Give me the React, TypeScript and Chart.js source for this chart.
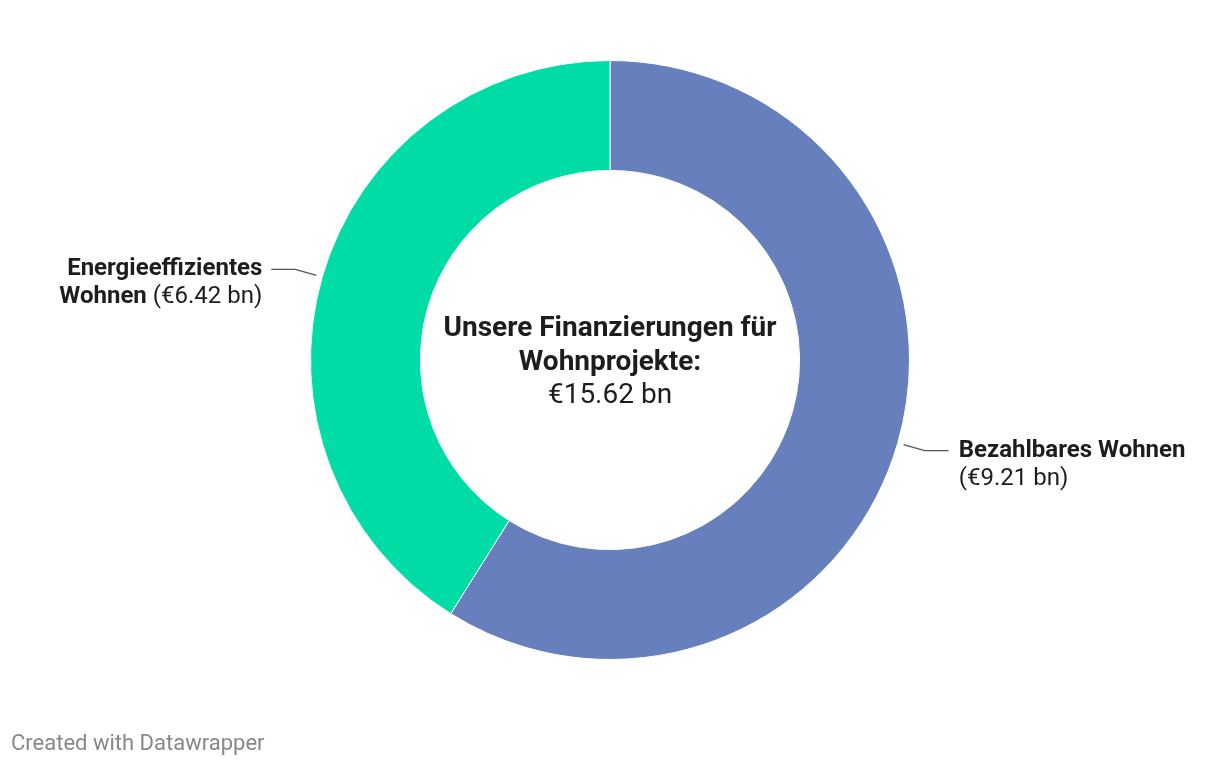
import React, { useEffect, useRef } from "react";
import { Chart, registerables } from "chart.js";

Chart.register(...registerables);

const categories = ["Bezahlbares Wohnen", "Energieeffizientes Wohnen"];
const values = [9.21, 6.42];
const colors = ["#6780bd", "#00dca6"];
// label lines: [boldPart, normalPart]
const labelLines: [string, string][][] = [
  [["Bezahlbares Wohnen", ""], ["", "(€9.21 bn)"]],
  [["Energieeffizientes", ""], ["Wohnen", " (€6.42 bn)"]],
];
const centerBold = ["Unsere Finanzierungen für", "Wohnprojekte:"];
const centerValue = "€15.62 bn";
const footer = "Created with Datawrapper";

const FONT = "Roboto, 'Noto Sans', sans-serif";
const TEXT = "#1d1d1d";
const LBL = 24;
const CTR = 28;

const labelPlugin = {
  id: "dwLabels",
  afterDraw(chart: any) {
    const ctx = chart.ctx as CanvasRenderingContext2D;
    const meta = chart.getDatasetMeta(0);
    ctx.save();
    meta.data.forEach((arc: any, i: number) => {
      const { x, y, startAngle, endAngle, outerRadius } = arc.getProps(
        ["x", "y", "startAngle", "endAngle", "outerRadius"],
        true
      );
      const mid = (startAngle + endAngle) / 2;
      const c = Math.cos(mid);
      const s = Math.sin(mid);
      const r1 = outerRadius + 6;
      const r2 = outerRadius + 28;
      const x1 = x + c * r1;
      const y1 = y + s * r1;
      const x2 = x + c * r2;
      const y2 = y + s * r2;
      const right = c >= 0;
      const x3 = x2 + (right ? 24 : -24);
      ctx.strokeStyle = "#555555";
      ctx.lineWidth = 1.3;
      ctx.beginPath();
      ctx.moveTo(x1, y1);
      ctx.lineTo(x2, y2);
      ctx.lineTo(x3, y2);
      ctx.stroke();

      const tx = x3 + (right ? 10 : -9);
      const lines = labelLines[i];
      ctx.textBaseline = "alphabetic";
      lines.forEach((ln, li) => {
        const ly = y2 + 6 + li * 28;
        const [b, n] = ln;
        ctx.font = `bold ${LBL}px ${FONT}`;
        const wb = ctx.measureText(b).width;
        ctx.font = `${LBL}px ${FONT}`;
        const wn = ctx.measureText(n).width;
        const start = right ? tx : tx - wb - wn;
        ctx.fillStyle = TEXT;
        ctx.textAlign = "left";
        ctx.font = `bold ${LBL}px ${FONT}`;
        ctx.fillText(b, start, ly);
        ctx.font = `${LBL}px ${FONT}`;
        ctx.fillText(n, start + wb, ly);
      });
    });

    // center text
    const a0 = meta.data[0];
    const cx = a0.x;
    const cy = a0.y;
    ctx.textAlign = "center";
    ctx.textBaseline = "alphabetic";
    ctx.fillStyle = TEXT;
    ctx.font = `bold ${CTR}px ${FONT}`;
    ctx.fillText(centerBold[0], cx, cy - 24);
    ctx.fillText(centerBold[1], cx, cy + 9.5);
    ctx.font = `${CTR}px ${FONT}`;
    ctx.fillText(centerValue, cx, cy + 43);

    // footer
    ctx.textAlign = "left";
    ctx.fillStyle = "#888888";
    ctx.font = `22px ${FONT}`;
    ctx.fillText(footer, 11, 750);
    ctx.restore();
  },
};

export default function App() {
  const ref = useRef<HTMLCanvasElement>(null);
  useEffect(() => {
    document.body.style.margin = "0";
    const chart = new Chart(ref.current!, {
      type: "doughnut",
      data: {
        labels: categories,
        datasets: [
          {
            data: values,
            backgroundColor: colors,
            borderColor: "#ffffff",
            borderWidth: 1,
            hoverOffset: 0,
          },
        ],
      },
      options: {
        animation: false,
        responsive: false,
        cutout: "63.3%",
        layout: { padding: { top: 60, bottom: 106, left: 0, right: 0 } },
        plugins: {
          legend: { display: false },
          tooltip: { enabled: false },
        },
      },
      plugins: [labelPlugin],
    });
    return () => chart.destroy();
  }, []);
  return (
    <div style={{ width: 1220, height: 766, background: "#fff" }}>
      <canvas ref={ref} width={1220} height={766} style={{ display: "block" }} />
    </div>
  );
}
